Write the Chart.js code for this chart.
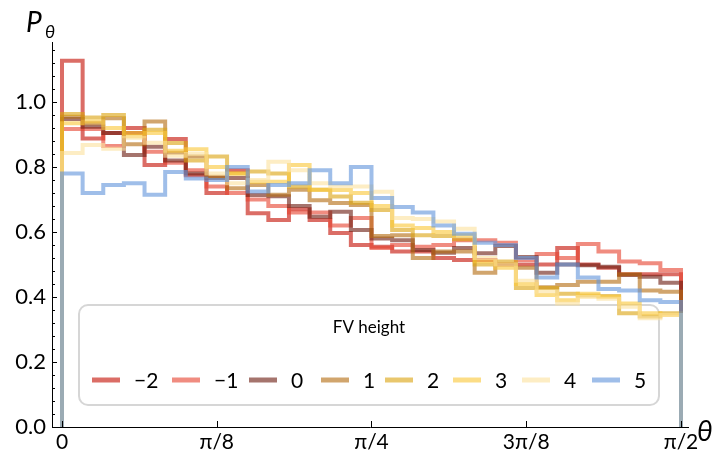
<!DOCTYPE html>
<html lang="en">
<head>
<meta charset="UTF-8">
<title>P theta histogram</title>
<script src="https://cdn.jsdelivr.net/npm/chart.js"></script>
<style>
  body { margin: 0; background: #fff; }
  #wrap { width: 716px; height: 461px; }
</style>
</head>
<body>
<div id="wrap"><canvas id="grafico" width="716" height="461"></canvas></div>
<script>
// 30 bins of 3 degrees between 0 and pi/2
const nBins = 30
const xTickValues = [0, Math.PI / 8, Math.PI / 4, 3 * Math.PI / 8, Math.PI / 2]
const xTickLabels = ['0', 'π/8', 'π/4', '3π/8', 'π/2']
const yTickValues = [0, 0.2, 0.4, 0.6, 0.8, 1.0]

const seriesNames = ['−2', '−1', '0', '1', '2', '3', '4', '5']
const seriesColors = [
  'rgba(200,30,20,0.65)', 'rgba(230,70,50,0.62)', 'rgba(110,30,20,0.62)',
  'rgba(180,110,20,0.62)', 'rgba(220,165,20,0.62)', 'rgba(250,200,60,0.62)',
  'rgba(252,226,160,0.62)', 'rgba(100,150,220,0.62)'
]

const fvM2 = [1.127,0.888,0.905,0.92,0.806,0.886,0.775,0.72,0.79,0.658,0.637,0.67,0.637,0.597,0.56,0.555,0.54,0.54,0.52,0.514,0.514,0.50,0.50,0.50,0.551,0.50,0.49,0.47,0.47,0.47]
const fvM1 = [0.917,0.917,0.865,0.905,0.847,0.813,0.79,0.74,0.72,0.70,0.68,0.66,0.66,0.62,0.643,0.551,0.56,0.555,0.56,0.575,0.575,0.567,0.514,0.532,0.52,0.563,0.54,0.509,0.504,0.483]
const fv0 = [0.948,0.924,0.905,0.837,0.862,0.82,0.78,0.766,0.766,0.714,0.71,0.68,0.647,0.662,0.606,0.58,0.575,0.545,0.536,0.551,0.535,0.557,0.523,0.475,0.50,0.498,0.493,0.468,0.462,0.444]
const fv1 = [0.955,0.935,0.95,0.87,0.94,0.844,0.832,0.77,0.735,0.745,0.715,0.73,0.698,0.689,0.683,0.588,0.59,0.52,0.54,0.54,0.475,0.50,0.49,0.43,0.437,0.447,0.447,0.47,0.42,0.416]
const fv2 = [0.963,0.952,0.96,0.905,0.915,0.874,0.82,0.832,0.78,0.786,0.78,0.74,0.73,0.709,0.69,0.668,0.606,0.59,0.588,0.578,0.50,0.509,0.428,0.428,0.41,0.405,0.403,0.35,0.34,0.35]
const fv3 = [0.935,0.94,0.92,0.895,0.905,0.85,0.855,0.80,0.78,0.755,0.755,0.806,0.73,0.729,0.72,0.68,0.62,0.612,0.60,0.59,0.51,0.49,0.44,0.406,0.39,0.41,0.40,0.38,0.35,0.345]
const fv4 = [0.843,0.868,0.856,0.89,0.875,0.835,0.84,0.78,0.75,0.76,0.816,0.79,0.75,0.74,0.74,0.724,0.643,0.64,0.632,0.61,0.52,0.50,0.45,0.416,0.38,0.40,0.395,0.37,0.335,0.345]
const fv5 = [0.78,0.72,0.745,0.75,0.715,0.785,0.765,0.76,0.80,0.725,0.745,0.75,0.79,0.75,0.80,0.705,0.677,0.66,0.62,0.595,0.567,0.56,0.52,0.46,0.50,0.46,0.425,0.42,0.39,0.385]
const allSeries = [fvM2, fvM1, fv0, fv1, fv2, fv3, fv4, fv5]

const binW = (Math.PI / 2) / nBins

// step outline: point i sits at the right edge of bin i, down to zero at both ends
function stepPoints(vals) {
  const pts = [{x: 0, y: 0}, {x: 0, y: vals[0]}]
  vals.forEach((v, i) => pts.push({x: (i + 1) * binW, y: v}))
  pts.push({x: nBins * binW, y: 0})
  return pts
}

const datasets = allSeries.map((vals, k) => ({
  label: seriesNames[k],
  data: stepPoints(vals),
  borderColor: seriesColors[k],
  borderWidth: 4,
  stepped: 'after',
  pointRadius: 0,
  fill: false,
  order: allSeries.length - k
}))

const fontFam = 'Lato, "Open Sans", sans-serif'

const tickMarks = {
  id: 'tickMarks',
  afterDraw(chart) {
    const c = chart.ctx, xs = chart.scales.x, ys = chart.scales.y, a = chart.chartArea
    c.save()
    c.strokeStyle = '#000'
    c.lineWidth = 1
    c.beginPath()
    for (let i = 0; i <= 29; i++) {
      const v = i * 0.04
      const py = Math.round(ys.getPixelForValue(v)) + 0.5
      const len = (i % 5 === 0) ? 5 : 3
      c.moveTo(a.left, py); c.lineTo(a.left + len, py)
    }
    xTickValues.forEach(v => {
      const px = Math.round(xs.getPixelForValue(v)) + 0.5
      c.moveTo(px, a.bottom); c.lineTo(px, a.bottom - 6)
    })
    c.stroke()
    // axis titles
    c.fillStyle = '#000'
    c.textBaseline = 'alphabetic'
    c.font = 'italic 28px ' + fontFam
    c.fillText('P', 26, 32)
    c.font = 'italic 18px ' + fontFam
    c.fillText('θ', 45, 38)
    c.font = 'italic 28px ' + fontFam
    c.fillText('θ', 697, 441)
    c.restore()
  }
}

const legendBox = {
  id: 'legendBox',
  beforeDatasetsDraw(chart) {
    const c = chart.ctx
    c.save()
    c.fillStyle = '#fff'
    c.strokeStyle = '#d6d6d6'
    c.lineWidth = 2
    c.beginPath()
    c.roundRect(79, 305, 580, 100, 9)
    c.fill(); c.stroke()
    c.fillStyle = '#000'
    c.font = '17px ' + fontFam
    c.textAlign = 'center'
    c.textBaseline = 'middle'
    c.fillText('FV height', 369, 328)
    const lineX = [92, 172, 249, 321, 385, 453, 522, 592]
    c.textAlign = 'left'
    c.font = '21px ' + fontFam
    chart.data.datasets.forEach((ds, k) => {
      c.strokeStyle = ds.borderColor
      c.lineWidth = 5
      c.beginPath()
      c.moveTo(lineX[k], 380); c.lineTo(lineX[k] + 28, 380)
      c.stroke()
      c.fillStyle = '#000'
      c.fillText(ds.label, lineX[k] + 42, 381)
    })
    c.restore()
  }
}

const ctx = document.getElementById('grafico')
const grafico = new Chart(ctx, {
  type: 'line',
  data: { datasets: datasets },
  options: {
    responsive: false,
    animation: false,
    layout: { padding: { top: 42, right: 28, left: 0, bottom: 0 } },
    plugins: { legend: { display: false }, tooltip: { enabled: false } },
    scales: {
      x: {
        type: 'linear',
        min: -10 / 394.1,
        max: Math.PI / 2 + 7 / 394.1,
        afterBuildTicks: s => { s.ticks = xTickValues.map(v => ({value: v})) },
        afterFit: s => { s.height = 34 },
        grid: { display: true, drawOnChartArea: false, drawTicks: false },
        border: { display: true, color: '#000', width: 1 },
        ticks: {
          color: '#000', padding: 3, maxRotation: 0, autoSkip: false,
          font: { family: fontFam, size: 21 },
          callback: (v, i) => xTickLabels[i]
        }
      },
      y: {
        min: 0,
        max: 385 / 325,
        afterBuildTicks: s => { s.ticks = yTickValues.map(v => ({value: v})) },
        afterFit: s => { s.width = 52 },
        grid: { display: true, drawOnChartArea: false, drawTicks: false },
        border: { display: true, color: '#000', width: 1 },
        ticks: {
          color: '#000', padding: 6,
          font: { family: fontFam, size: 22 },
          callback: v => v.toFixed(1)
        }
      }
    }
  },
  plugins: [legendBox, tickMarks]
})
</script>
</body>
</html>
